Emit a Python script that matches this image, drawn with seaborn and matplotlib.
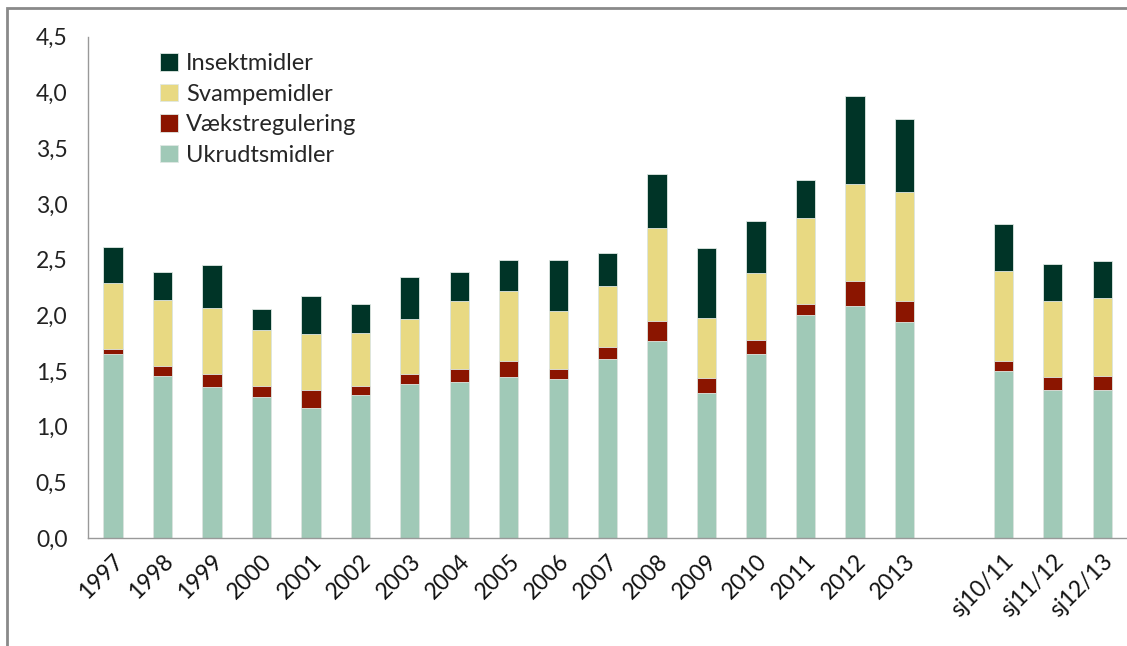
import matplotlib
matplotlib.use("Agg")
import matplotlib.pyplot as plt
import seaborn as sns
import pandas as pd
import numpy as np
from matplotlib.patches import Rectangle

categories = ["1997", "1998", "1999", "2000", "2001", "2002", "2003", "2004", "2005",
              "2006", "2007", "2008", "2009", "2010", "2011", "2012", "2013",
              " ", "sj10/11", "sj11/12", "sj12/13"]

ukrudtsmidler  = [1.65, 1.46, 1.36, 1.27, 1.17, 1.29, 1.38, 1.40, 1.45, 1.43, 1.61, 1.77, 1.30, 1.65, 2.00, 2.08, 1.94, np.nan, 1.50, 1.33, 1.33]
vaekstregul    = [0.05, 0.09, 0.11, 0.10, 0.16, 0.08, 0.09, 0.12, 0.14, 0.09, 0.11, 0.18, 0.14, 0.13, 0.10, 0.23, 0.19, np.nan, 0.09, 0.12, 0.13]
svampemidler   = [0.59, 0.59, 0.60, 0.50, 0.50, 0.47, 0.50, 0.61, 0.63, 0.52, 0.54, 0.83, 0.54, 0.60, 0.77, 0.87, 0.98, np.nan, 0.81, 0.68, 0.70]
insektmidler   = [0.32, 0.25, 0.38, 0.19, 0.34, 0.26, 0.37, 0.26, 0.28, 0.46, 0.30, 0.49, 0.62, 0.47, 0.34, 0.79, 0.65, np.nan, 0.42, 0.33, 0.33]

series_names = ["Ukrudtsmidler", "Vækstregulering", "Svampemidler", "Insektmidler"]
series_vals = [ukrudtsmidler, vaekstregul, svampemidler, insektmidler]
colors = {"Ukrudtsmidler": "#A0C9B7", "Vækstregulering": "#8B1500",
          "Svampemidler": "#E8D982", "Insektmidler": "#003427"}

yticks = [0.0, 0.5, 1.0, 1.5, 2.0, 2.5, 3.0, 3.5, 4.0, 4.5]
ytick_labels = ["0,0", "0,5", "1,0", "1,5", "2,0", "2,5", "3,0", "3,5", "4,0", "4,5"]

sns.set_style("white")
plt.rcParams["font.family"] = ["Lato", "DejaVu Sans"]

fig = plt.figure(figsize=(11.27, 6.46), dpi=100)
ax = fig.add_axes([88.3 / 1127, 1 - 538.3 / 646, 1 - 88.3 / 1127, (538.3 - 36.7) / 646])

# cumulative stacks, draw tallest first
cum = np.zeros(len(categories))
cums = []
for vals in series_vals:
    cum = cum + np.array(vals, dtype=float)
    cums.append(cum.copy())

for name, c in reversed(list(zip(series_names, cums))):
    df = pd.DataFrame({"cat": categories, "val": c})
    sns.barplot(data=df, x="cat", y="val", order=categories, color=colors[name],
                saturation=1, width=0.39, edgecolor="#dfe8e4", linewidth=0.6,
                ax=ax, errorbar=None, label=name)

ax.set_xlim(-0.5, len(categories) - 0.5)
ax.set_ylim(0, 4.5)
ax.set_yticks(yticks)
ax.set_yticklabels(ytick_labels, fontsize=16.5, color="#222222")
ax.set_xlabel("")
ax.set_ylabel("")

ax.set_xticks(range(len(categories)))
ax.set_xticklabels(categories, rotation=45, ha="right", rotation_mode="anchor",
                   fontsize=16.5, color="#111111")
ax.set_xticks(np.arange(-0.5, len(categories), 1.0), minor=True)
ax.tick_params(axis="x", which="major", length=0, pad=9, bottom=False)
ax.tick_params(axis="x", which="minor", length=7, width=1, color="#999999", direction="out")
ax.tick_params(axis="y", which="major", length=7, width=1, color="#999999", direction="out", pad=8)

for s in ["top", "right"]:
    ax.spines[s].set_visible(False)
for s in ["left", "bottom"]:
    ax.spines[s].set_color("#999999")
    ax.spines[s].set_linewidth(1)

# legend: Insektmidler on top
hs, ls = ax.get_legend_handles_labels()
order = ["Insektmidler", "Svampemidler", "Vækstregulering", "Ukrudtsmidler"]
hmap = dict(zip(ls, hs))
leg = ax.legend([hmap[k] for k in order], order, loc="upper left",
                bbox_to_anchor=(0.053, 1.0), frameon=False, fontsize=17,
                handlelength=0.75, handleheight=0.75, handletextpad=0.35,
                labelspacing=0.4, borderpad=0.2)

# outer frame
fig.patches.append(Rectangle((7 / 1127, -0.01), 1.2, 1 - 8 / 646 + 0.01,
                             transform=fig.transFigure, fill=False,
                             edgecolor="#8a8a8a", linewidth=2, zorder=0))

fig.savefig("out.png", dpi=100)
